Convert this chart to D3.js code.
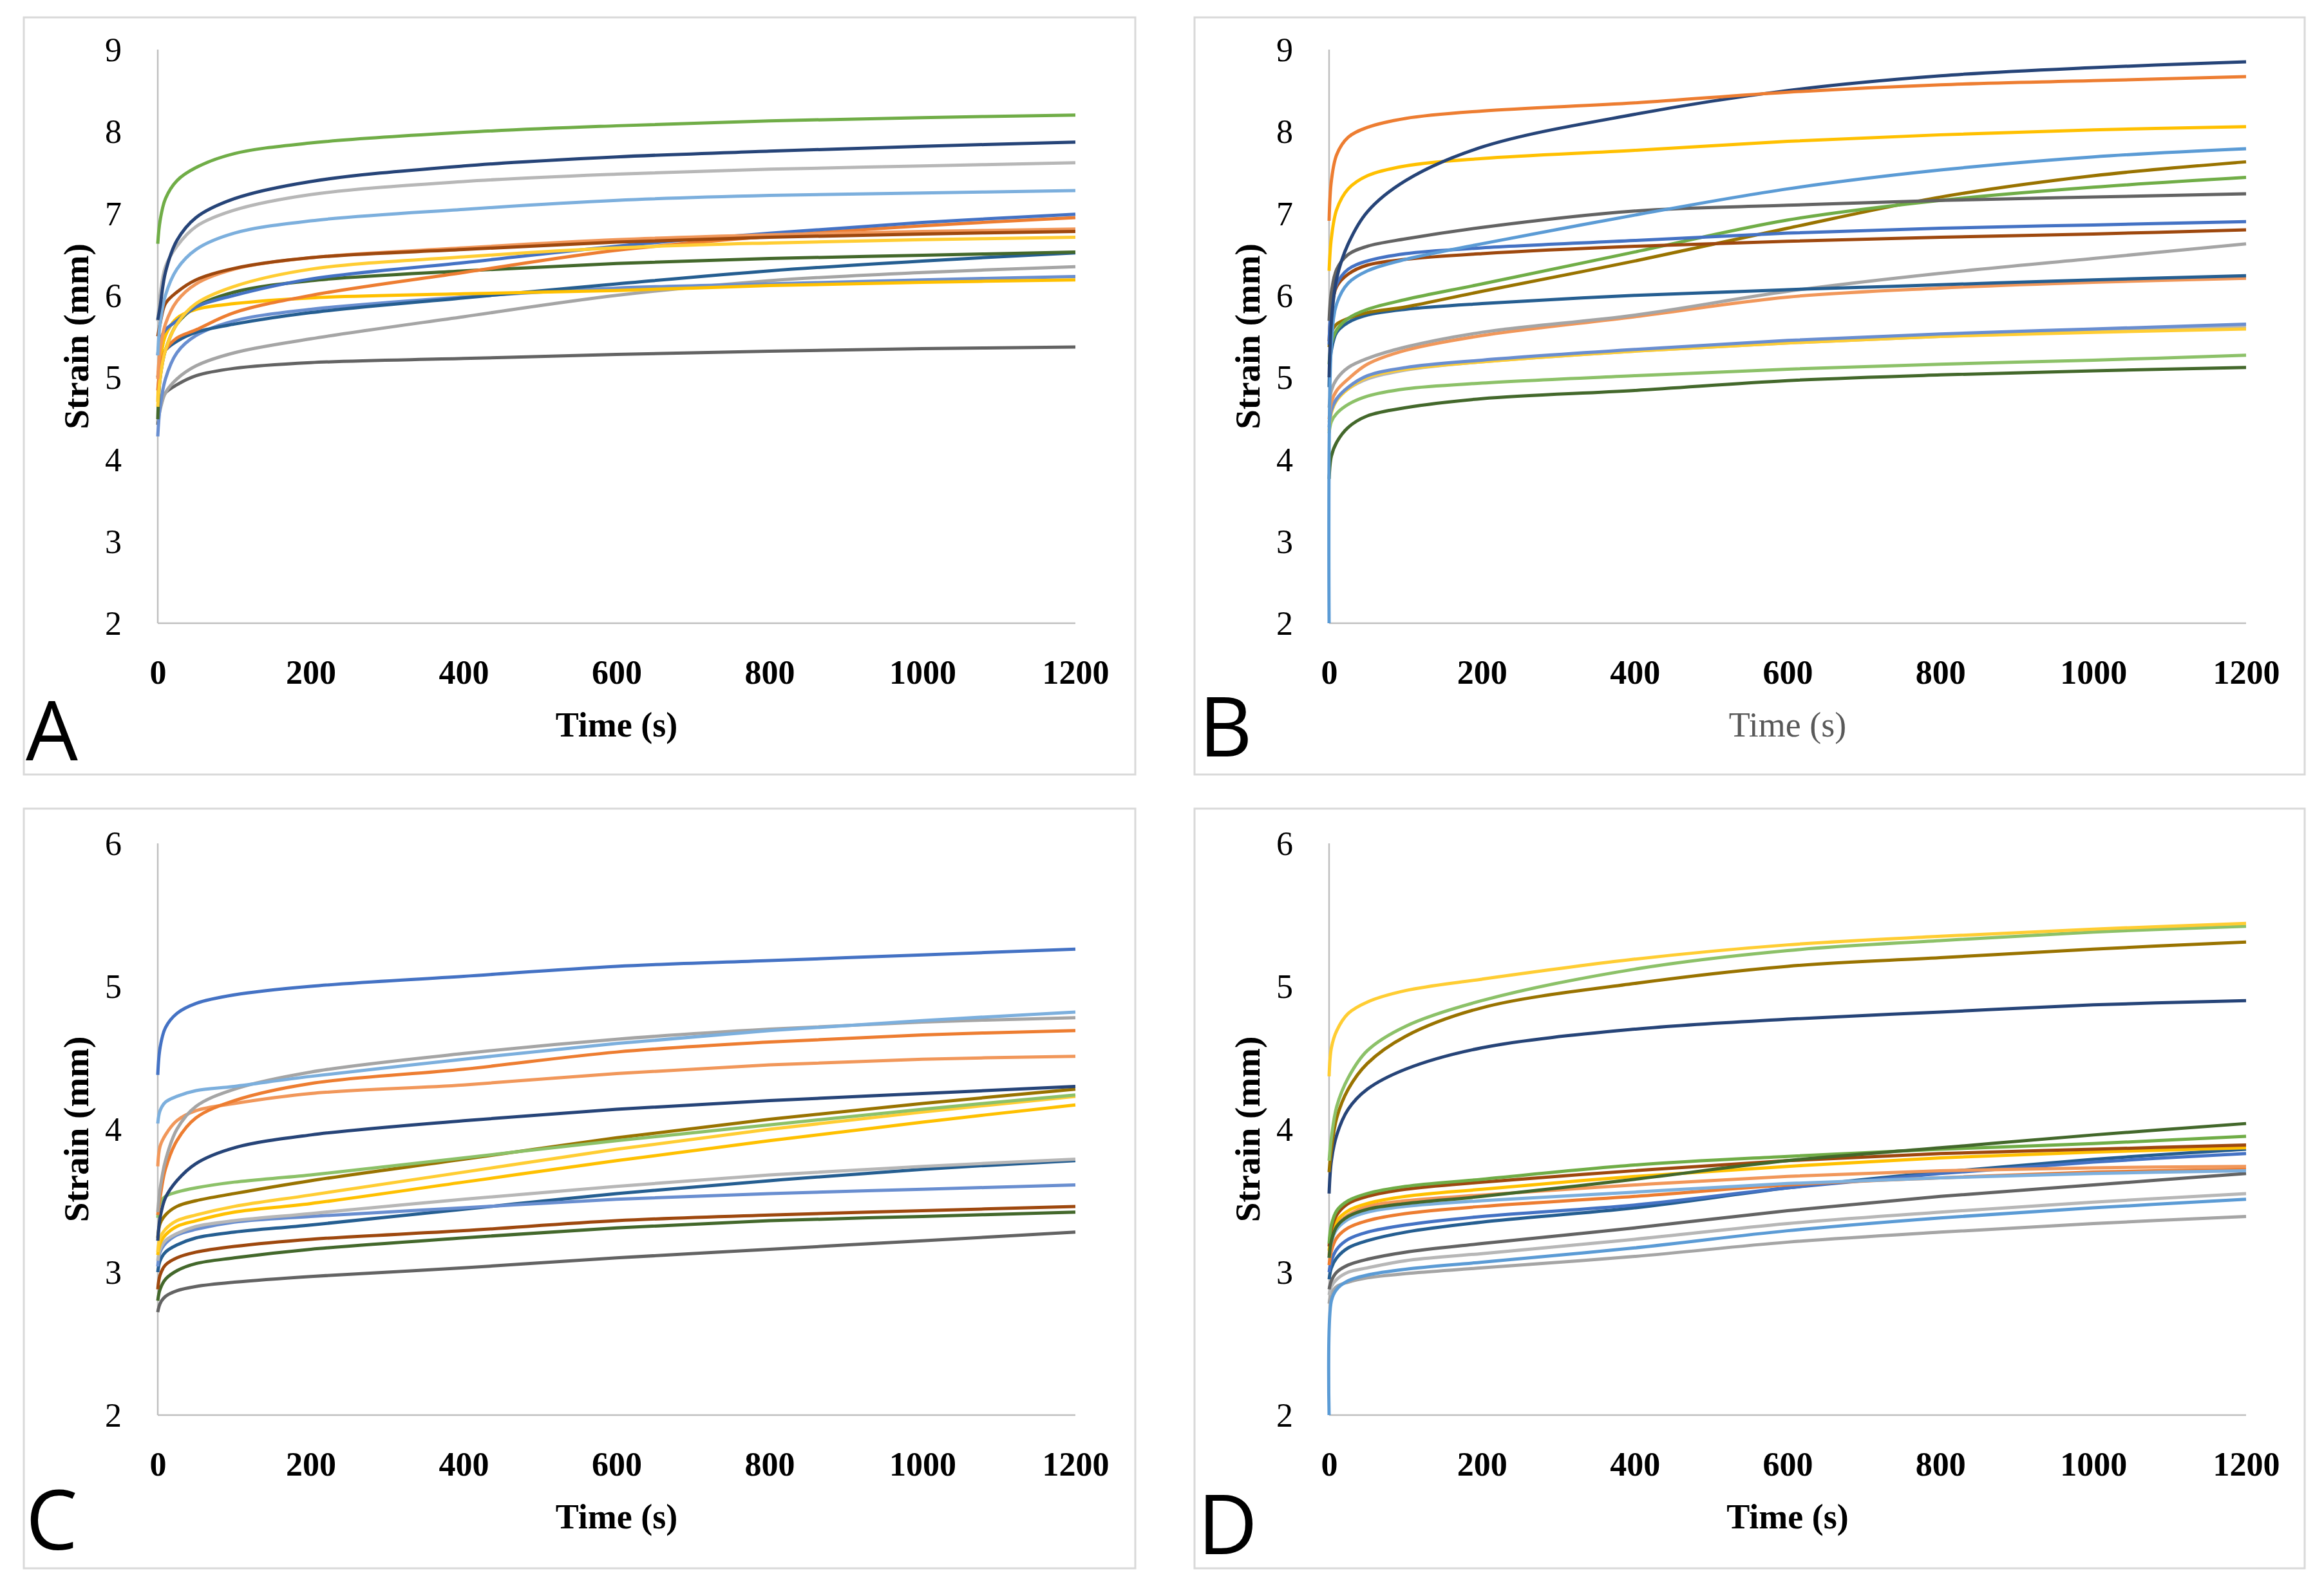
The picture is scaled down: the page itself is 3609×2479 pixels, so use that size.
<!DOCTYPE html>
<html>
<head>
	<title>Strain vs time</title>
	<style type="text/css">
		body {
			margin: 0;
			background-color: #fff;
		}
		.viz {
			display: block;
		}
	</style>
</head>
<body>
	<svg class="viz" width="3609" height="2479"></svg>

	<script src="https://cdnjs.cloudflare.com/ajax/libs/d3/7.8.5/d3.min.js" charset="utf-8"></script>
	<script type="text/javascript">

		// sample times (s), shared by every curve
		var timeS = [0, 3, 10, 25, 50, 100, 200, 400, 600, 800, 1000, 1200];
		var xTicks = [0, 200, 400, 600, 800, 1000, 1200];
		var yTicksTop = [2, 3, 4, 5, 6, 7, 8, 9];
		var yTicksBottom = [2, 3, 4, 5, 6];

		// panel A, strain (mm)
		var namesA = ['darkgray', 'gray', 'medblue', 'darkblue', 'gold', 'darkgreen', 'orange', 'blue',
			'lightgold', 'lightorange', 'brown', 'lightblue', 'lightgray', 'navy', 'green'];
		var strainA = [
			[4.42, 4.67, 4.81, 4.91, 5.02, 5.11, 5.18, 5.23, 5.28, 5.32, 5.35, 5.37],
			[4.46, 4.60, 4.81, 4.98, 5.14, 5.30, 5.47, 5.74, 6.00, 6.18, 6.28, 6.35],
			[4.28, 4.63, 4.98, 5.30, 5.51, 5.69, 5.83, 5.98, 6.09, 6.14, 6.19, 6.23],
			[5.00, 5.16, 5.33, 5.44, 5.55, 5.65, 5.79, 5.97, 6.14, 6.30, 6.42, 6.52],
			[4.70, 5.16, 5.51, 5.72, 5.83, 5.90, 5.97, 6.02, 6.06, 6.12, 6.16, 6.19],
			[4.49, 4.98, 5.33, 5.65, 5.86, 6.04, 6.18, 6.30, 6.39, 6.45, 6.49, 6.53],
			[4.84, 5.09, 5.33, 5.48, 5.58, 5.79, 6.00, 6.28, 6.55, 6.72, 6.85, 6.95],
			[5.27, 5.45, 5.58, 5.69, 5.86, 6.00, 6.20, 6.40, 6.60, 6.76, 6.89, 6.99],
			[4.64, 4.98, 5.33, 5.65, 5.90, 6.11, 6.32, 6.47, 6.58, 6.64, 6.68, 6.71],
			[4.98, 5.33, 5.65, 5.93, 6.14, 6.32, 6.46, 6.58, 6.68, 6.74, 6.78, 6.81],
			[5.50, 5.65, 5.90, 6.04, 6.19, 6.33, 6.46, 6.56, 6.65, 6.71, 6.75, 6.78],
			[5.27, 5.65, 6.00, 6.32, 6.56, 6.76, 6.91, 7.05, 7.16, 7.22, 7.25, 7.28],
			[5.69, 6.00, 6.35, 6.60, 6.84, 7.04, 7.23, 7.39, 7.48, 7.54, 7.58, 7.62],
			[5.70, 5.86, 6.28, 6.67, 6.95, 7.18, 7.39, 7.58, 7.69, 7.76, 7.82, 7.87],
			[6.63, 6.91, 7.18, 7.40, 7.56, 7.73, 7.86, 7.99, 8.07, 8.13, 8.17, 8.20]
		];

		// panel B, strain (mm)
		var namesB = ['darkgreen', 'lightgreen', 'lightgray', 'lightgold', 'medblue', 'lightorange', 'gray',
			'darkblue', 'darkgold', 'green', 'brown', 'blue', 'darkgray', 'lightblue2', 'gold', 'navy', 'orange'];
		var strainB = [
			[3.76, 4.04, 4.21, 4.39, 4.53, 4.63, 4.74, 4.84, 4.96, 5.03, 5.08, 5.12],
			[4.32, 4.46, 4.56, 4.67, 4.77, 4.86, 4.93, 5.02, 5.10, 5.16, 5.21, 5.27],
			[4.45, 4.62, 4.74, 4.86, 4.98, 5.09, 5.19, 5.32, 5.42, 5.50, 5.56, 5.62],
			[4.35, 4.57, 4.72, 4.86, 5.00, 5.10, 5.19, 5.32, 5.42, 5.50, 5.55, 5.59],
			[4.39, 4.60, 4.74, 4.88, 5.02, 5.12, 5.21, 5.34, 5.45, 5.53, 5.59, 5.65],
			[4.49, 4.70, 4.84, 4.98, 5.16, 5.33, 5.51, 5.74, 5.98, 6.09, 6.16, 6.21],
			[4.63, 4.84, 4.98, 5.12, 5.23, 5.37, 5.55, 5.76, 6.05, 6.27, 6.45, 6.63],
			[4.88, 5.33, 5.55, 5.67, 5.76, 5.83, 5.90, 6.00, 6.07, 6.13, 6.19, 6.24],
			[5.37, 5.55, 5.65, 5.72, 5.79, 5.86, 6.05, 6.42, 6.82, 7.20, 7.46, 7.63],
			[5.16, 5.41, 5.58, 5.72, 5.83, 5.95, 6.14, 6.53, 6.92, 7.16, 7.32, 7.44],
			[5.44, 5.83, 6.11, 6.26, 6.37, 6.44, 6.51, 6.60, 6.66, 6.71, 6.75, 6.80],
			[5.40, 5.86, 6.14, 6.32, 6.42, 6.51, 6.58, 6.67, 6.76, 6.82, 6.86, 6.90],
			[5.69, 6.04, 6.32, 6.50, 6.60, 6.69, 6.83, 7.03, 7.10, 7.16, 7.20, 7.24],
			[2.00, 5.40, 5.90, 6.15, 6.30, 6.44, 6.63, 6.98, 7.30, 7.53, 7.69, 7.79],
			[6.30, 6.70, 7.05, 7.30, 7.46, 7.58, 7.67, 7.77, 7.88, 7.96, 8.02, 8.06],
			[5.00, 5.68, 6.21, 6.63, 7.02, 7.40, 7.81, 8.21, 8.50, 8.68, 8.78, 8.85],
			[6.91, 7.40, 7.72, 7.93, 8.05, 8.16, 8.25, 8.35, 8.48, 8.57, 8.62, 8.67]
		];

		// panel C, strain (mm)
		var namesC = ['darkgray', 'darkgreen', 'brown', 'darkblue', 'medblue', 'lightgray', 'gold', 'lightgold',
			'darkgold', 'lightgreen', 'navy', 'lightorange', 'orange', 'gray', 'lightblue', 'blue'];
		var strainC = [
			[2.72, 2.78, 2.83, 2.87, 2.90, 2.93, 2.97, 3.03, 3.10, 3.16, 3.22, 3.28],
			[2.80, 2.88, 2.95, 3.01, 3.06, 3.10, 3.16, 3.24, 3.31, 3.36, 3.39, 3.42],
			[2.88, 2.98, 3.05, 3.10, 3.14, 3.18, 3.23, 3.29, 3.36, 3.40, 3.43, 3.46],
			[3.00, 3.08, 3.14, 3.19, 3.24, 3.28, 3.33, 3.44, 3.55, 3.64, 3.72, 3.78],
			[3.04, 3.14, 3.20, 3.26, 3.30, 3.35, 3.39, 3.45, 3.51, 3.55, 3.58, 3.61],
			[3.08, 3.16, 3.22, 3.27, 3.32, 3.36, 3.41, 3.51, 3.60, 3.68, 3.74, 3.79],
			[3.12, 3.20, 3.26, 3.32, 3.36, 3.42, 3.48, 3.63, 3.78, 3.92, 4.05, 4.17],
			[3.14, 3.24, 3.30, 3.36, 3.40, 3.46, 3.54, 3.70, 3.86, 4.00, 4.12, 4.23],
			[3.24, 3.34, 3.40, 3.46, 3.50, 3.55, 3.64, 3.79, 3.94, 4.07, 4.18, 4.28],
			[3.38, 3.48, 3.53, 3.56, 3.59, 3.63, 3.68, 3.80, 3.92, 4.03, 4.14, 4.24],
			[3.22, 3.38, 3.52, 3.64, 3.76, 3.87, 3.96, 4.06, 4.14, 4.20, 4.25, 4.30],
			[3.74, 3.88, 3.96, 4.06, 4.13, 4.18, 4.25, 4.31, 4.39, 4.45, 4.49, 4.51],
			[3.40, 3.52, 3.72, 3.92, 4.08, 4.20, 4.32, 4.42, 4.54, 4.61, 4.66, 4.69],
			[3.42, 3.58, 3.78, 4.00, 4.16, 4.28, 4.40, 4.53, 4.63, 4.70, 4.75, 4.78],
			[4.04, 4.13, 4.19, 4.23, 4.27, 4.30, 4.37, 4.49, 4.60, 4.69, 4.76, 4.82],
			[4.38, 4.57, 4.71, 4.81, 4.88, 4.94, 5.00, 5.07, 5.14, 5.18, 5.22, 5.26]
		];

		// panel D, strain (mm)
		var namesD = ['gray', 'lightblue2', 'lightgray', 'darkgray', 'darkblue', 'blue', 'orange', 'lightblue',
			'lightorange', 'gold', 'brown', 'green', 'darkgreen', 'navy', 'darkgold', 'lightgreen', 'lightgold'];
		var strainD = [
			[2.78, 2.85, 2.90, 2.93, 2.96, 2.99, 3.03, 3.11, 3.21, 3.28, 3.34, 3.39],
			[2.00, 2.80, 2.88, 2.94, 2.98, 3.02, 3.07, 3.17, 3.29, 3.38, 3.45, 3.51],
			[2.84, 2.90, 2.95, 3.00, 3.03, 3.08, 3.13, 3.23, 3.34, 3.42, 3.49, 3.55],
			[2.88, 2.94, 3.00, 3.05, 3.09, 3.14, 3.20, 3.31, 3.43, 3.53, 3.61, 3.69],
			[2.95, 3.03, 3.10, 3.17, 3.22, 3.28, 3.35, 3.45, 3.59, 3.70, 3.79, 3.86],
			[3.00, 3.08, 3.16, 3.23, 3.28, 3.33, 3.39, 3.47, 3.59, 3.69, 3.77, 3.83],
			[3.05, 3.15, 3.24, 3.31, 3.36, 3.41, 3.46, 3.53, 3.61, 3.66, 3.70, 3.72],
			[3.10, 3.21, 3.30, 3.37, 3.42, 3.46, 3.50, 3.56, 3.62, 3.66, 3.69, 3.71],
			[3.12, 3.24, 3.33, 3.40, 3.46, 3.50, 3.54, 3.61, 3.67, 3.71, 3.73, 3.74],
			[3.15, 3.27, 3.36, 3.43, 3.48, 3.53, 3.58, 3.67, 3.74, 3.80, 3.84, 3.87],
			[3.18, 3.30, 3.40, 3.48, 3.53, 3.58, 3.63, 3.71, 3.78, 3.83, 3.86, 3.89],
			[3.20, 3.33, 3.43, 3.50, 3.55, 3.60, 3.65, 3.75, 3.81, 3.86, 3.90, 3.95],
			[3.10, 3.22, 3.32, 3.39, 3.44, 3.48, 3.53, 3.65, 3.78, 3.87, 3.96, 4.04],
			[3.55, 3.78, 3.96, 4.14, 4.28, 4.42, 4.57, 4.70, 4.77, 4.82, 4.87, 4.90],
			[3.70, 3.86, 4.08, 4.28, 4.46, 4.65, 4.85, 5.02, 5.14, 5.20, 5.26, 5.31],
			[3.78, 3.94, 4.16, 4.36, 4.55, 4.72, 4.90, 5.12, 5.25, 5.32, 5.38, 5.42],
			[4.37, 4.57, 4.69, 4.81, 4.89, 4.97, 5.05, 5.19, 5.29, 5.35, 5.40, 5.44]
		];

		// office-style line colours
		var palette = {
			blue: '#4472C4', orange: '#ED7D31', gray: '#A5A5A5', gold: '#FFC000',
			lightblue2: '#5B9BD5', green: '#70AD47', navy: '#264478', brown: '#9E480E',
			darkgray: '#636363', darkgold: '#997300', darkblue: '#255E91', darkgreen: '#43682B',
			medblue: '#698ED0', lightorange: '#F1975A', lightgray: '#B7B7B7', lightgold: '#FFCD33',
			lightblue: '#7CAFDD', lightgreen: '#8CC168'
		};

		var canvas = d3.select('.viz');
		var serif = '"Liberation Serif", "Times New Roman", serif';

		// one chart panel
		var drawPanel = function(p) {
			var g = canvas.append('g');

			// light frame round the panel
			g.append('rect')
				.attr('x', p.frame[0])
				.attr('y', p.frame[1])
				.attr('width', p.frame[2])
				.attr('height', p.frame[3])
				.attr('fill', 'none')
				.attr('stroke', '#d9d9d9')
				.attr('stroke-width', 3);

			var x = d3.scaleLinear().domain([0, 1200]).range([p.left, p.right]);
			var y = d3.scaleLinear().domain([p.yTicks[0], p.yTicks[p.yTicks.length - 1]]).range([p.bottom, p.top]);

			// y axis labels
			g.append('g')
				.attr('transform', 'translate(' + p.left + ',0)')
				.call(d3.axisLeft(y).tickValues(p.yTicks).tickFormat(d3.format('d')).tickSize(0).tickPadding(56))
				.call(function(a) { a.select('.domain').remove(); })
				.selectAll('text')
					.attr('dy', '0.34em')
					.attr('fill', '#000')
					.style('font-family', serif)
					.style('font-size', '52px');

			// x axis labels
			g.append('g')
				.attr('transform', 'translate(0,' + p.bottom + ')')
				.call(d3.axisBottom(x).tickValues(xTicks).tickFormat(d3.format('d')).tickSize(0).tickPadding(94))
				.call(function(a) { a.select('.domain').remove(); })
				.selectAll('text')
					.attr('dy', '0')
					.attr('fill', '#000')
					.style('font-family', serif)
					.style('font-weight', 'bold')
					.style('font-size', '52px');

			// axis lines
			g.append('line')
				.attr('x1', p.left).attr('x2', p.left)
				.attr('y1', p.top).attr('y2', p.bottom)
				.attr('stroke', '#bfbfbf').attr('stroke-width', 2.5);
			g.append('line')
				.attr('x1', p.left).attr('x2', p.right)
				.attr('y1', p.bottom).attr('y2', p.bottom)
				.attr('stroke', '#bfbfbf').attr('stroke-width', 2.5);

			// curves
			var line = d3.line()
				.x(function(d, i) { return x(timeS[i]); })
				.y(function(d) { return y(d); })
				.curve(d3.curveCatmullRom.alpha(0.5));

			g.selectAll('path.curve').data(p.values)
				.enter().append('path')
					.attr('class', 'curve')
					.attr('d', line)
					.attr('fill', 'none')
					.attr('stroke', function(d, i) { return palette[p.names[i]]; })
					.attr('stroke-width', 5)
					.attr('stroke-linejoin', 'round');

			// titles
			g.append('text')
				.attr('x', (p.left + p.right) / 2)
				.attr('y', p.bottom + 176)
				.attr('text-anchor', 'middle')
				.attr('fill', p.xTitleColor)
				.style('font-family', serif)
				.style('font-weight', p.xTitleWeight)
				.style('font-size', '54px')
				.text('Time (s)');

			g.append('text')
				.attr('transform', 'translate(' + (p.left - 108) + ',' + ((p.top + p.bottom) / 2) + ') rotate(-90)')
				.attr('text-anchor', 'middle')
				.attr('fill', '#000')
				.style('font-family', serif)
				.style('font-weight', 'bold')
				.style('font-size', '55px')
				.text('Strain (mm)');

			// panel letter
			g.append('text')
				.attr('x', p.letterX)
				.attr('y', p.letterY)
				.attr('fill', '#000')
				.style('font-family', '"Open Sans", "DejaVu Sans", sans-serif')
				.style('font-size', '128px')
				.text(p.letter);
		};

		drawPanel({ letter: 'A', names: namesA, values: strainA, yTicks: yTicksTop,
			frame: [37, 27, 1726, 1176], left: 245, right: 1670, top: 77, bottom: 968,
			letterX: 40, letterY: 1181, xTitleColor: '#000', xTitleWeight: 'bold' });
		drawPanel({ letter: 'B', names: namesB, values: strainB, yTicks: yTicksTop,
			frame: [1855, 27, 1724, 1176], left: 2064, right: 3488, top: 77, bottom: 968,
			letterX: 1862, letterY: 1175, xTitleColor: '#595959', xTitleWeight: 'normal' });
		drawPanel({ letter: 'C', names: namesC, values: strainC, yTicks: yTicksBottom,
			frame: [37, 1256, 1726, 1180], left: 245, right: 1670, top: 1310, bottom: 2198,
			letterX: 40, letterY: 2407, xTitleColor: '#000', xTitleWeight: 'bold' });
		drawPanel({ letter: 'D', names: namesD, values: strainD, yTicks: yTicksBottom,
			frame: [1855, 1256, 1724, 1180], left: 2064, right: 3488, top: 1310, bottom: 2198,
			letterX: 1860, letterY: 2414, xTitleColor: '#000', xTitleWeight: 'bold' });

	</script>
</body>
</html>
